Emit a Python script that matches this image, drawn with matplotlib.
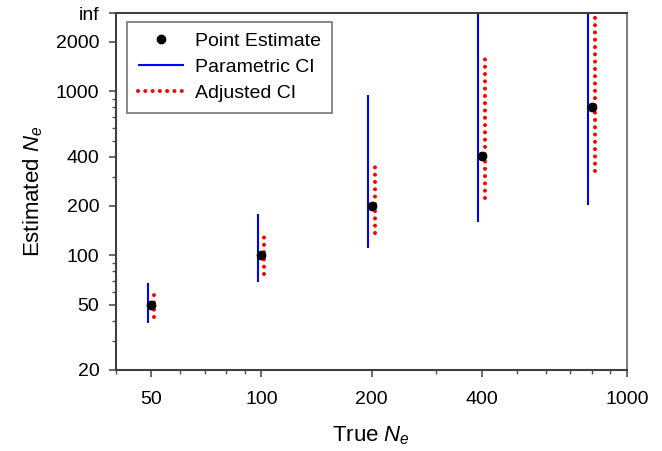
import matplotlib
matplotlib.use("Agg")
import matplotlib.pyplot as plt
import matplotlib.transforms as mtransforms
from matplotlib.ticker import FixedLocator, NullFormatter, LogLocator

plt.rcParams['font.family'] = ['Liberation Sans', 'DejaVu Sans']
plt.rcParams['mathtext.fontset'] = 'custom'
plt.rcParams['mathtext.rm'] = 'Liberation Sans'
plt.rcParams['mathtext.it'] = 'Liberation Sans:italic'

# Data
true_ne = [50, 100, 200, 400, 800]
point_est = [50, 100, 200, 401, 799]
param_lo = [38.9, 68.4, 110.8, 159.6, 203.9]
param_hi = [67.8, 177.8, 943, 3000, 3000]   # 3000 = "inf"
adj_lo = [41.9, 77.3, 136.8, 223.6, 326]
adj_hi = [57.0, 129.3, 349, 1722, 2850]

ytick_vals = [20, 50, 100, 200, 400, 1000, 2000, 3000]
ytick_labels = ['20', '50', '100', '200', '400', '1000', '2000', 'inf']
xtick_vals = [50, 100, 200, 400, 1000]
xtick_labels = ['50', '100', '200', '400', '1000']

fig = plt.figure(figsize=(6.62, 4.51), dpi=100)
ax = fig.add_axes([116/662, 81/451, (627-116)/662, (370-13)/451])
ax.set_xscale('log')
ax.set_yscale('log')
ax.set_xlim(40, 1000)
ax.set_ylim(20, 3000)

off_blue = mtransforms.ScaledTranslation(-3.5/100, 0, fig.dpi_scale_trans)
off_red = mtransforms.ScaledTranslation(3/100, 0, fig.dpi_scale_trans)

for i, x in enumerate(true_ne):
    ax.plot([x, x], [param_lo[i], param_hi[i]], color='#0000ff', lw=1.5,
            solid_capstyle='butt', transform=ax.transData + off_blue, zorder=2,
            label='Parametric CI' if i == 0 else None)
    ax.plot([x, x], [adj_lo[i], adj_hi[i]], color='#ff0000', lw=2.9,
            linestyle=(0, (0.01, 1.8)), dash_capstyle='round',
            transform=ax.transData + off_red, zorder=3,
            label='Adjusted CI' if i == 0 else None)

ax.plot(true_ne, point_est, linestyle='none', marker='o', color='black',
        markersize=6, zorder=4, label='Point Estimate')

handles, labels = ax.get_legend_handles_labels()
order = [labels.index('Point Estimate'), labels.index('Parametric CI'), labels.index('Adjusted CI')]
leg = ax.legend([handles[k] for k in order], [labels[k] for k in order],
                loc='upper left', bbox_to_anchor=(127/662, 1-22/451), bbox_transform=fig.transFigure,
                fontsize=14, frameon=True, fancybox=False, borderpad=0.55,
                handlelength=2.4, handletextpad=0.55, labelspacing=0.42, borderaxespad=0)
leg.get_frame().set_edgecolor('#606060')
leg.get_frame().set_linewidth(1.3)

ax.yaxis.set_major_locator(FixedLocator(ytick_vals))
ax.set_yticklabels(ytick_labels)
ax.yaxis.set_minor_locator(LogLocator(base=10, subs=[2,3,4,5,6,7,8,9]))
ax.yaxis.set_minor_formatter(NullFormatter())
ax.xaxis.set_major_locator(FixedLocator(xtick_vals))
ax.set_xticklabels(xtick_labels)
ax.xaxis.set_minor_locator(LogLocator(base=10, subs=[2,3,4,5,6,7,8,9]))
ax.xaxis.set_minor_formatter(NullFormatter())

ax.tick_params(axis='both', which='major', direction='out', length=5, width=1.2,
               color='#505050', labelsize=14)
ax.tick_params(axis='both', which='minor', direction='out', length=3, width=1.0,
               color='#505050')
ax.tick_params(axis='x', which='major', pad=10)
ax.tick_params(axis='y', which='major', pad=7)

for s in ['left', 'bottom', 'top']:
    ax.spines[s].set_color('#404040')
    ax.spines[s].set_linewidth(1.5)
ax.spines['right'].set_color('#808080')
ax.spines['right'].set_linewidth(1.5)

ax.set_xlabel('True $N_e$', fontsize=16, labelpad=12)
ax.set_ylabel('Estimated $N_e$', fontsize=16, labelpad=8)

fig.savefig('out.png', dpi=100)
